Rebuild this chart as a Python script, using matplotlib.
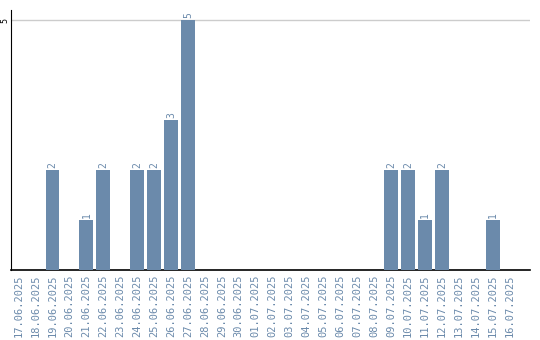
import matplotlib
matplotlib.use("Agg")
import matplotlib.pyplot as plt

# dates 17.06.2025 .. 16.07.2025
june = ["%02d.06.2025" % d for d in range(17, 31)]
july = ["%02d.07.2025" % d for d in range(1, 17)]
dates = june + july
counts = [0, 0, 2, 0, 1, 2, 0, 2, 2, 3, 5, 0, 0, 0,
          0, 0, 0, 0, 0, 0, 0, 0, 2, 2, 1, 2, 0, 0, 1, 0]

bar_color = "#6b8aab"
label_color = "#6b8aab"

fig = plt.figure(figsize=(5.4, 3.4), dpi=100)
ax = fig.add_axes([0.0204, 0.206, 0.961, 0.764])

x = list(range(len(dates)))
bars = ax.bar(x, counts, width=0.82, color=bar_color, zorder=3)

for xi, c in zip(x, counts):
    if c > 0:
        ax.text(xi, c + 0.05, str(c), rotation=90, ha="center", va="bottom",
                fontsize=7, color=label_color, family="DejaVu Sans Mono")

ax.set_xlim(-0.45, len(dates) + 0.2)
ax.set_ylim(0, 5.2)
ax.set_yticks([5])
ax.set_yticklabels(["5"], rotation=90, va="center", fontsize=6, family="DejaVu Sans Mono")
ax.axhline(5, color="#cccccc", lw=1, zorder=1)

ax.set_xticks(x)
ax.set_xticklabels(dates, rotation=90, fontsize=7.5, color=label_color,
                   family="DejaVu Sans Mono")
ax.tick_params(axis="x", length=0, pad=3)
ax.tick_params(axis="y", length=0, pad=1)

for s in ["top", "right"]:
    ax.spines[s].set_visible(False)
ax.spines["left"].set_color("black")
ax.spines["bottom"].set_color("black")
ax.spines["bottom"].set_linewidth(1.2)

fig.savefig("out.png", dpi=100)
